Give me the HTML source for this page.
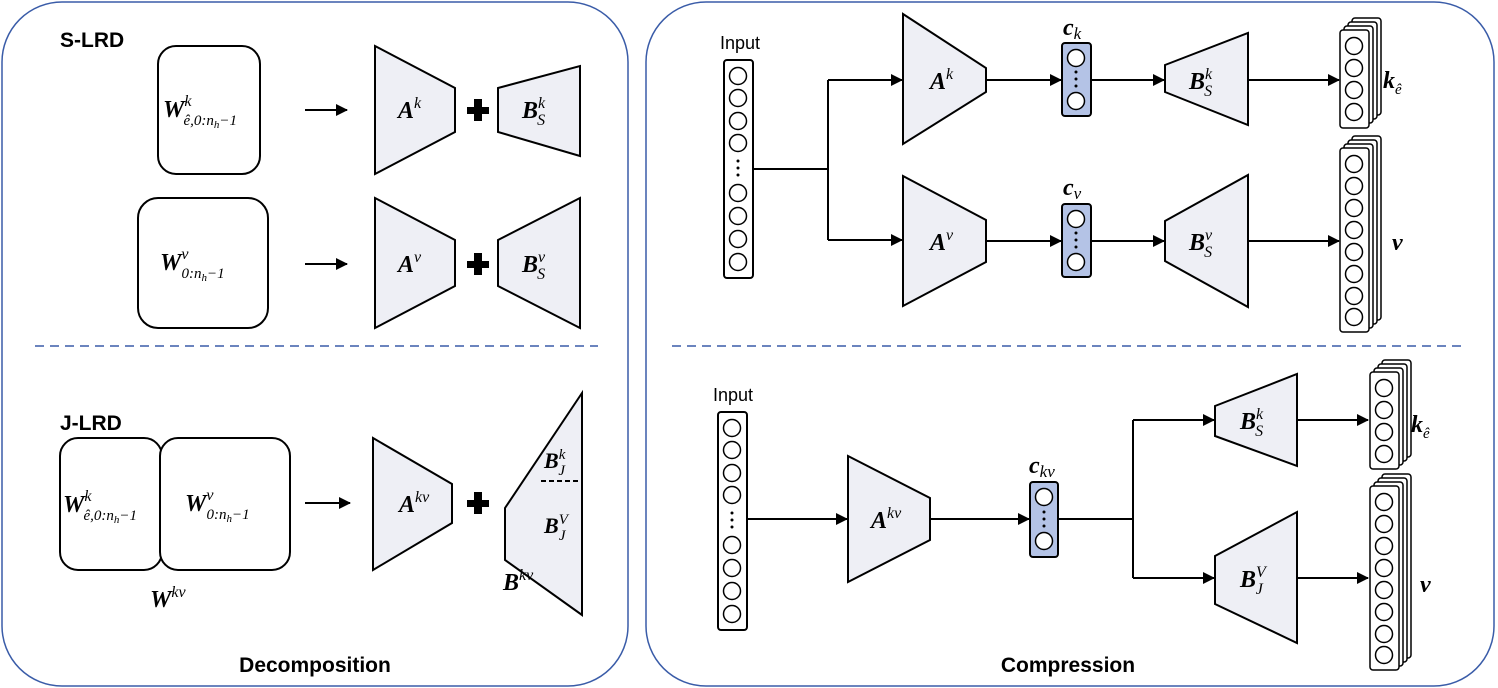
<!DOCTYPE html>
<html><head><meta charset="utf-8"><style>
html,body{margin:0;padding:0;background:#fff}
svg{display:block}
.m{font-family:"Liberation Serif",serif;font-style:italic;font-weight:bold;fill:#000}
.s{font-family:"Liberation Serif",serif;font-style:italic;fill:#000}
.t{font-family:"Liberation Sans",sans-serif;fill:#000}
</style></head><body>
<svg width="1498" height="688" viewBox="0 0 1498 688" xmlns="http://www.w3.org/2000/svg">
<defs>
<marker id="a" markerWidth="12" markerHeight="12" refX="11" refY="6" orient="auto" markerUnits="userSpaceOnUse"><path d="M0,0 L12,6 L0,12 z" fill="#000"/></marker>
<g id="cir"><circle r="8.5" fill="#fff" stroke="#000" stroke-width="1.5"/></g>
</defs>
<!-- panels -->
<rect x="2" y="2" width="626" height="684" rx="60" fill="none" stroke="#3a5ca8" stroke-width="1.5"/>
<rect x="646" y="2" width="848" height="684" rx="60" fill="none" stroke="#3a5ca8" stroke-width="1.5"/>
<line x1="35" y1="346" x2="598" y2="346" stroke="#3a5ca8" stroke-width="1.5" stroke-dasharray="9,6"/>
<line x1="672" y1="346" x2="1465" y2="346" stroke="#3a5ca8" stroke-width="1.5" stroke-dasharray="9,6"/>

<g stroke="#000" stroke-width="2">
<!-- S-LRD -->
<rect x="158" y="46" width="102" height="128" rx="18" fill="#fff"/>
<rect x="138" y="198" width="130" height="130" rx="20" fill="#fff"/>
<line x1="305" y1="110" x2="347" y2="110" marker-end="url(#a)"/>
<line x1="305" y1="264" x2="347" y2="264" marker-end="url(#a)"/>
<polygon points="375,46 455,88 455,132 375,174" fill="#eeeff5"/>
<polygon points="498,88 580,66 580,156 498,132" fill="#eeeff5"/>
<polygon points="375,198 455,240 455,286 375,328" fill="#eeeff5"/>
<polygon points="498,240 580,198 580,328 498,286" fill="#eeeff5"/>
<!-- J-LRD -->
<rect x="60" y="438" width="102" height="132" rx="18" fill="#fff"/>
<rect x="160" y="438" width="130" height="132" rx="18" fill="#fff"/>
<line x1="305" y1="503" x2="350" y2="503" marker-end="url(#a)"/>
<polygon points="373,438 452,484 452,523 373,570" fill="#eeeff5"/>
<polygon points="505,508 582,393 582,615 505,560" fill="#eeeff5"/>
<line x1="541" y1="481" x2="582" y2="481" stroke-dasharray="5,3"/>
</g>
<g fill="#000">
<path d="M467,107h22v7h-22z M474,99h8v22h-8z"/>
<path d="M467,261h22v7h-22z M474,253h8v22h-8z"/>
<path d="M467,500h22v7h-22z M474,492h8v22h-8z"/>
</g>
<text class="t" x="60" y="47" font-size="21" font-weight="bold">S-LRD</text>
<text class="t" x="60" y="430" font-size="21" font-weight="bold">J-LRD</text>
<text class="t" x="315" y="672" font-size="21" font-weight="bold" text-anchor="middle">Decomposition</text>
<text class="t" x="1068" y="672" font-size="21" font-weight="bold" text-anchor="middle">Compression</text>

<text class="m" x="163" y="117" font-size="24">W<tspan class="s" font-size="16" dy="-11" font-weight="normal">k</tspan><tspan class="s" font-size="15" dx="-8" dy="19" font-weight="normal" font-style="normal">ê,0:<tspan font-style="italic">n</tspan><tspan font-size="11" dy="3">h</tspan><tspan dy="-3">−1</tspan></tspan></text>
<text class="m" x="160" y="270" font-size="24">W<tspan class="s" font-size="16" dy="-11" font-weight="normal">v</tspan><tspan class="s" font-size="15" dx="-7" dy="19" font-weight="normal" font-style="normal">0:<tspan font-style="italic">n</tspan><tspan font-size="11" dy="3">h</tspan><tspan dy="-3">−1</tspan></tspan></text>
<text class="m" x="398" y="118" font-size="24">A<tspan class="s" font-size="16" dy="-10" font-weight="normal">k</tspan></text>
<text class="m" x="522" y="118" font-size="24">B<tspan class="s" font-size="16" dy="-10" font-weight="normal">k</tspan><tspan class="s" font-size="16" dx="-8" dy="17" font-weight="normal">S</tspan></text>
<text class="m" x="398" y="272" font-size="24">A<tspan class="s" font-size="16" dy="-10" font-weight="normal">v</tspan></text>
<text class="m" x="522" y="272" font-size="24">B<tspan class="s" font-size="16" dy="-10" font-weight="normal">v</tspan><tspan class="s" font-size="16" dx="-8" dy="17" font-weight="normal">S</tspan></text>

<text class="m" x="63" y="542" font-size="24" transform="translate(0,-30)">W<tspan class="s" font-size="16" dy="-11" font-weight="normal">k</tspan><tspan class="s" font-size="15" dx="-8" dy="19" font-weight="normal" font-style="normal">ê,0:<tspan font-style="italic">n</tspan><tspan font-size="11" dy="3">h</tspan><tspan dy="-3">−1</tspan></tspan></text>
<text class="m" x="185" y="541" font-size="24" transform="translate(0,-30)">W<tspan class="s" font-size="16" dy="-11" font-weight="normal">v</tspan><tspan class="s" font-size="15" dx="-7" dy="19" font-weight="normal" font-style="normal">0:<tspan font-style="italic">n</tspan><tspan font-size="11" dy="3">h</tspan><tspan dy="-3">−1</tspan></tspan></text>
<text class="m" x="150" y="607" font-size="24">W<tspan class="s" font-size="16" dy="-10" font-weight="normal">kv</tspan></text>
<text class="m" x="399" y="512" font-size="24">A<tspan class="s" font-size="16" dy="-10" font-weight="normal">kv</tspan></text>
<text class="m" x="544" y="468" font-size="22">B<tspan class="s" font-size="15" dy="-9" font-weight="normal">k</tspan><tspan class="s" font-size="15" dx="-7" dy="16" font-weight="normal">J</tspan></text>
<text class="m" x="544" y="533" font-size="22">B<tspan class="s" font-size="15" dy="-9" font-weight="normal">V</tspan><tspan class="s" font-size="15" dx="-9" dy="16" font-weight="normal">J</tspan></text>
<text class="m" x="503" y="590" font-size="24">B<tspan class="s" font-size="16" dy="-10" font-weight="normal">kv</tspan></text>

<!-- Right top -->
<text class="t" x="740" y="49" font-size="18" text-anchor="middle">Input</text>
<g stroke="#000" stroke-width="2" fill="none">
<rect x="724" y="60" width="29" height="218" rx="3" fill="#fff"/>
<polyline points="753,169 828,169"/>
<polyline points="828,80 828,240"/>
<line x1="828" y1="80" x2="902" y2="80" marker-end="url(#a)"/>
<line x1="828" y1="240" x2="902" y2="240" marker-end="url(#a)"/>
<polygon points="903,14 986,68 986,92 903,144" fill="#eeeff5"/>
<polygon points="903,176 986,220 986,262 903,306" fill="#eeeff5"/>
<line x1="986" y1="80" x2="1061" y2="80" marker-end="url(#a)"/>
<line x1="986" y1="241" x2="1061" y2="241" marker-end="url(#a)"/>
<rect x="1062" y="43" width="29" height="73" rx="3" fill="#b4c3e6"/>
<rect x="1062" y="204" width="29" height="73" rx="3" fill="#b4c3e6"/>
<line x1="1091" y1="80" x2="1164" y2="80" marker-end="url(#a)"/>
<line x1="1091" y1="241" x2="1164" y2="241" marker-end="url(#a)"/>
<polygon points="1165,65 1248,33 1248,125 1165,92" fill="#eeeff5"/>
<polygon points="1165,221 1248,175 1248,307 1165,261" fill="#eeeff5"/>
<line x1="1248" y1="80" x2="1339" y2="80" marker-end="url(#a)"/>
<line x1="1248" y1="241" x2="1339" y2="241" marker-end="url(#a)"/>
</g>
<g stroke="#000" stroke-width="1.5" fill="#fff">
<rect x="1352" y="18" width="29" height="97" rx="3"/>
<rect x="1348" y="22" width="29" height="97" rx="3"/>
<rect x="1344" y="26" width="29" height="97" rx="3"/>
<rect x="1340" y="30" width="29" height="98" rx="3"/>
<rect x="1352" y="136" width="29" height="184" rx="3"/>
<rect x="1348" y="140" width="29" height="184" rx="3"/>
<rect x="1344" y="144" width="29" height="184" rx="3"/>
<rect x="1340" y="148" width="29" height="184" rx="3"/>
</g>
<g>
<use href="#cir" x="738" y="76"/><use href="#cir" x="738" y="98"/><use href="#cir" x="738" y="121"/><use href="#cir" x="738" y="143"/>
<use href="#cir" x="738" y="193"/><use href="#cir" x="738" y="216"/><use href="#cir" x="738" y="239"/><use href="#cir" x="738" y="262"/>
<use href="#cir" x="1076" y="58"/><use href="#cir" x="1076" y="101"/>
<use href="#cir" x="1076" y="219"/><use href="#cir" x="1076" y="262"/>
<use href="#cir" x="1354" y="46"/><use href="#cir" x="1354" y="68"/><use href="#cir" x="1354" y="90"/><use href="#cir" x="1354" y="112"/>
<use href="#cir" x="1354" y="164"/><use href="#cir" x="1354" y="186"/><use href="#cir" x="1354" y="208"/><use href="#cir" x="1354" y="230"/><use href="#cir" x="1354" y="252"/><use href="#cir" x="1354" y="274"/><use href="#cir" x="1354" y="296"/><use href="#cir" x="1354" y="317"/>
</g>
<g fill="#000">
<circle cx="738" cy="161" r="1.5"/><circle cx="738" cy="168" r="1.5"/><circle cx="738" cy="175" r="1.5"/>
<circle cx="1076" cy="72" r="1.5"/><circle cx="1076" cy="79" r="1.5"/><circle cx="1076" cy="86" r="1.5"/>
<circle cx="1076" cy="233" r="1.5"/><circle cx="1076" cy="240" r="1.5"/><circle cx="1076" cy="247" r="1.5"/>
</g>
<text class="m" x="930" y="89" font-size="24">A<tspan class="s" font-size="16" dy="-10" font-weight="normal">k</tspan></text>
<text class="m" x="930" y="250" font-size="24">A<tspan class="s" font-size="16" dy="-10" font-weight="normal">v</tspan></text>
<text class="m" x="1063" y="35" font-size="24">c<tspan class="s" font-size="17" dy="4" font-weight="normal">k</tspan></text>
<text class="m" x="1063" y="195" font-size="24">c<tspan class="s" font-size="17" dy="4" font-weight="normal">v</tspan></text>
<text class="m" x="1189" y="89" font-size="24">B<tspan class="s" font-size="16" dy="-10" font-weight="normal">k</tspan><tspan class="s" font-size="16" dx="-8" dy="17" font-weight="normal">S</tspan></text>
<text class="m" x="1189" y="250" font-size="24">B<tspan class="s" font-size="16" dy="-10" font-weight="normal">v</tspan><tspan class="s" font-size="16" dx="-8" dy="17" font-weight="normal">S</tspan></text>
<text class="m" x="1383" y="88" font-size="24">k<tspan class="s" font-size="15" dy="6" font-weight="normal">ê</tspan></text>
<text class="m" x="1392" y="250" font-size="24">v</text>

<!-- Right bottom -->
<text class="t" x="733" y="401" font-size="18" text-anchor="middle">Input</text>
<g stroke="#000" stroke-width="2" fill="none">
<rect x="718" y="412" width="29" height="218" rx="3" fill="#fff"/>
<line x1="747" y1="519" x2="847" y2="519" marker-end="url(#a)"/>
<polygon points="848,456 930,498 930,540 848,582" fill="#eeeff5"/>
<line x1="930" y1="519" x2="1029" y2="519" marker-end="url(#a)"/>
<rect x="1030" y="482" width="28" height="75" rx="3" fill="#b4c3e6"/>
<polyline points="1058,519 1133,519"/>
<polyline points="1133,420 1133,578"/>
<line x1="1133" y1="420" x2="1214" y2="420" marker-end="url(#a)"/>
<line x1="1133" y1="578" x2="1214" y2="578" marker-end="url(#a)"/>
<polygon points="1215,406 1297,374 1297,466 1215,436" fill="#eeeff5"/>
<polygon points="1215,556 1297,512 1297,643 1215,604" fill="#eeeff5"/>
<line x1="1297" y1="420" x2="1368" y2="420" marker-end="url(#a)"/>
<line x1="1297" y1="578" x2="1368" y2="578" marker-end="url(#a)"/>
</g>
<g stroke="#000" stroke-width="1.5" fill="#fff">
<rect x="1382" y="360" width="29" height="97" rx="3"/>
<rect x="1378" y="364" width="29" height="97" rx="3"/>
<rect x="1374" y="368" width="29" height="97" rx="3"/>
<rect x="1370" y="372" width="29" height="97" rx="3"/>
<rect x="1382" y="474" width="29" height="184" rx="3"/>
<rect x="1378" y="478" width="29" height="184" rx="3"/>
<rect x="1374" y="482" width="29" height="184" rx="3"/>
<rect x="1370" y="486" width="29" height="184" rx="3"/>
</g>
<g>
<use href="#cir" x="732" y="428"/><use href="#cir" x="732" y="450"/><use href="#cir" x="732" y="473"/><use href="#cir" x="732" y="495"/>
<use href="#cir" x="732" y="545"/><use href="#cir" x="732" y="568"/><use href="#cir" x="732" y="591"/><use href="#cir" x="732" y="614"/>
<use href="#cir" x="1044" y="497"/><use href="#cir" x="1044" y="541"/>
<use href="#cir" x="1384" y="388"/><use href="#cir" x="1384" y="410"/><use href="#cir" x="1384" y="432"/><use href="#cir" x="1384" y="454"/>
<use href="#cir" x="1384" y="502"/><use href="#cir" x="1384" y="524"/><use href="#cir" x="1384" y="546"/><use href="#cir" x="1384" y="568"/><use href="#cir" x="1384" y="590"/><use href="#cir" x="1384" y="612"/><use href="#cir" x="1384" y="634"/><use href="#cir" x="1384" y="655"/>
</g>
<g fill="#000">
<circle cx="732" cy="513" r="1.5"/><circle cx="732" cy="520" r="1.5"/><circle cx="732" cy="527" r="1.5"/>
<circle cx="1044" cy="512" r="1.5"/><circle cx="1044" cy="519" r="1.5"/><circle cx="1044" cy="526" r="1.5"/>
</g>
<text class="m" x="871" y="528" font-size="24">A<tspan class="s" font-size="16" dy="-10" font-weight="normal">kv</tspan></text>
<text class="m" x="1029" y="473" font-size="24">c<tspan class="s" font-size="17" dy="4" font-weight="normal">kv</tspan></text>
<text class="m" x="1240" y="429" font-size="24">B<tspan class="s" font-size="16" dy="-10" font-weight="normal">k</tspan><tspan class="s" font-size="16" dx="-8" dy="17" font-weight="normal">S</tspan></text>
<text class="m" x="1240" y="587" font-size="24">B<tspan class="s" font-size="16" dy="-10" font-weight="normal">V</tspan><tspan class="s" font-size="16" dx="-10" dy="17" font-weight="normal">J</tspan></text>
<text class="m" x="1411" y="432" font-size="24">k<tspan class="s" font-size="15" dy="6" font-weight="normal">ê</tspan></text>
<text class="m" x="1420" y="592" font-size="24">v</text>
</svg>
</body></html>
